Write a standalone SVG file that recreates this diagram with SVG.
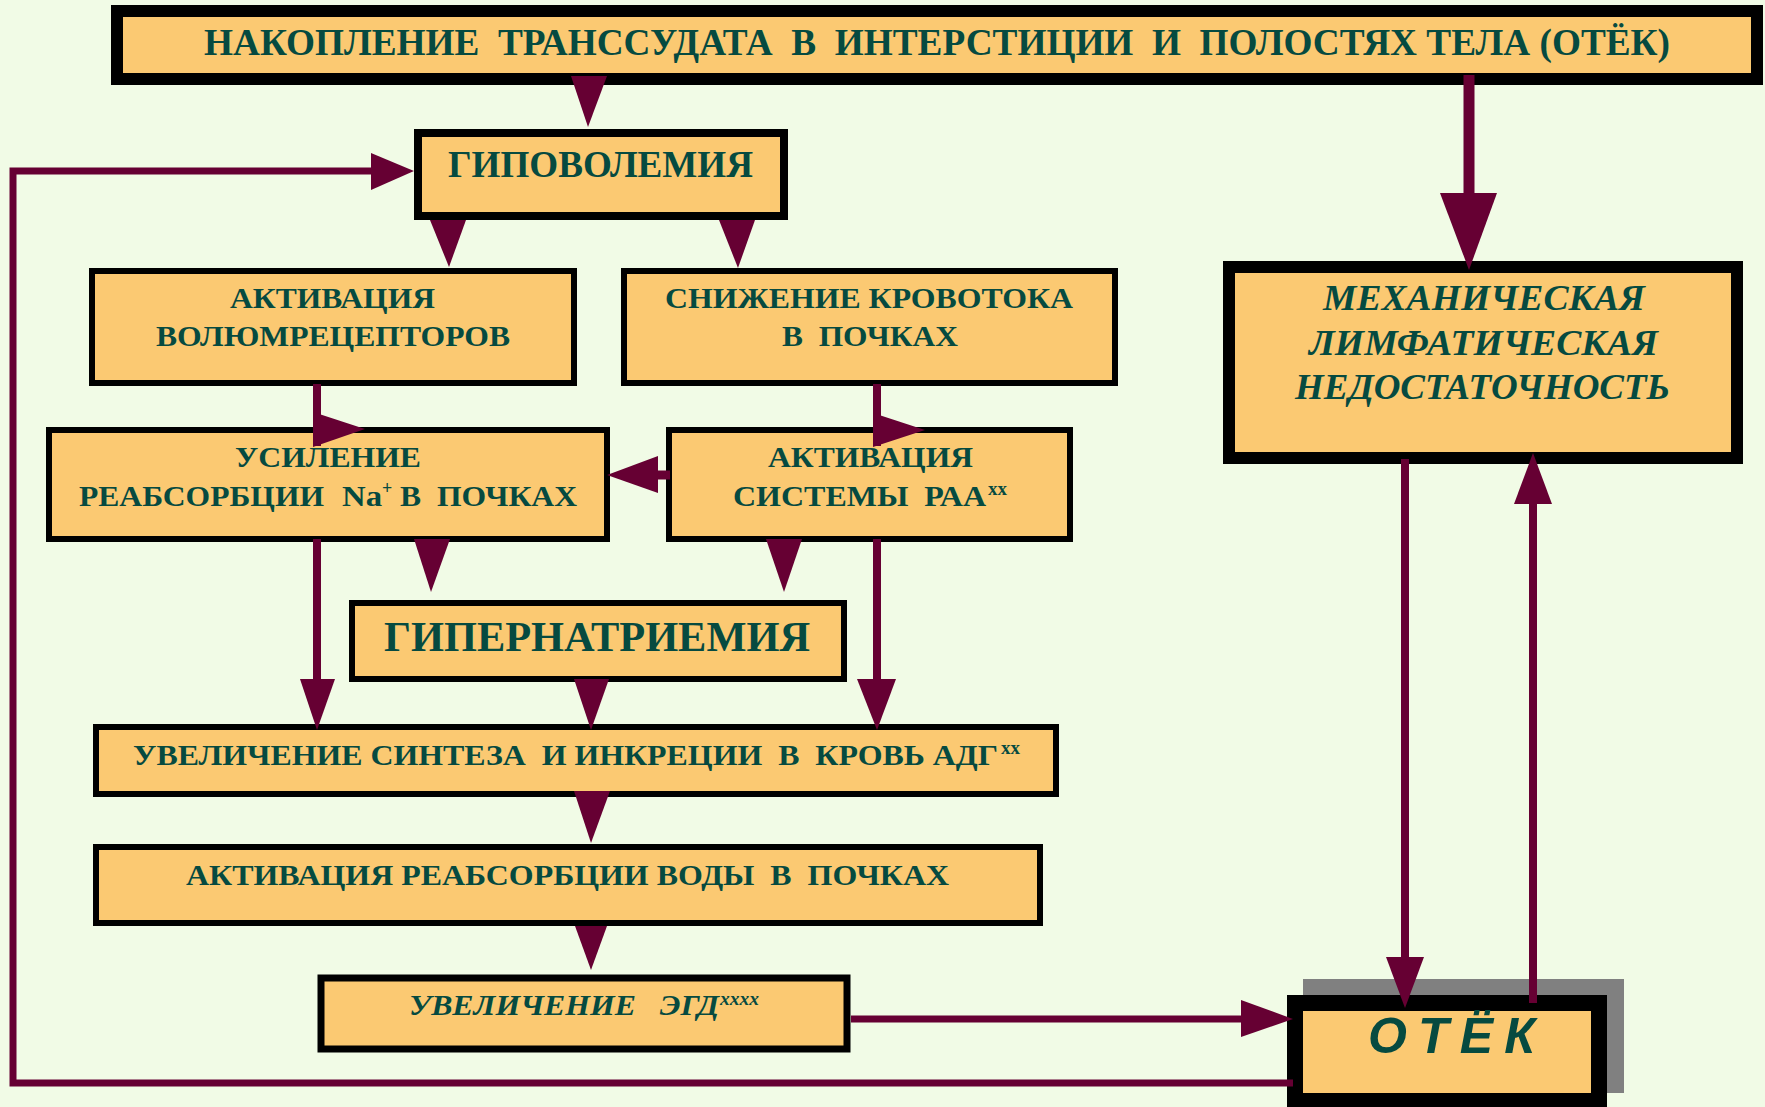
<svg xmlns="http://www.w3.org/2000/svg" width="1765" height="1107" viewBox="0 0 1765 1107">
<style>
.bg{fill:#F1FBE6}
.box{fill:#FBC972;stroke:#000}
.t{font-family:"Liberation Serif","Times New Roman",serif;font-weight:bold;fill:#064A40;white-space:pre}
.i{font-style:italic}
.s{font-family:"Liberation Sans",Arial,sans-serif;font-weight:bold;font-style:italic;fill:#064A40}
.ah{fill:#660033}
.ln{stroke:#660033;fill:none}
</style>
<rect class="bg" x="0" y="0" width="1765" height="1107"/>

<g id="node-top">
<rect class="box" x="117" y="11" width="1640" height="68" stroke-width="12"/>
<text class="t" x="204" y="55" font-size="37" textLength="1466" lengthAdjust="spacingAndGlyphs">НАКОПЛЕНИЕ  ТРАНССУДАТА  В  ИНТЕРСТИЦИИ  И  ПОЛОСТЯХ ТЕЛА (ОТЁК)</text>
</g>

<g id="node-gipovolemia">
<rect class="box" x="418" y="133" width="366" height="83" stroke-width="8"/>
<text class="t" x="448" y="177" font-size="38" textLength="305" lengthAdjust="spacingAndGlyphs">ГИПОВОЛЕМИЯ</text>
</g>

<g id="node-volumreceptors">
<rect class="box" x="92" y="271" width="482" height="112" stroke-width="6"/>
<text class="t" x="230" y="308" font-size="30" textLength="205" lengthAdjust="spacingAndGlyphs">АКТИВАЦИЯ</text>
<text class="t" x="156" y="346" font-size="30" textLength="354" lengthAdjust="spacingAndGlyphs">ВОЛЮМРЕЦЕПТОРОВ</text>
</g>

<g id="node-krovotok">
<rect class="box" x="624" y="271" width="491" height="112" stroke-width="6"/>
<text class="t" x="665" y="308" font-size="30" textLength="408" lengthAdjust="spacingAndGlyphs">СНИЖЕНИЕ КРОВОТОКА</text>
<text class="t" x="782" y="346" font-size="30" textLength="176" lengthAdjust="spacingAndGlyphs">В  ПОЧКАХ</text>
</g>

<g id="node-usilenie">
<rect class="box" x="49" y="430" width="558" height="109" stroke-width="6"/>
<text class="t" x="235" y="467" font-size="30" textLength="186" lengthAdjust="spacingAndGlyphs">УСИЛЕНИЕ</text>
<text class="t" x="79" y="506" font-size="30" textLength="245" lengthAdjust="spacingAndGlyphs">РЕАБСОРБЦИИ</text>
<text class="t" x="342" y="506" font-size="30" textLength="40" lengthAdjust="spacingAndGlyphs">Na</text>
<text class="t" x="382" y="494" font-size="18">+</text>
<text class="t" x="400" y="506" font-size="30" textLength="177" lengthAdjust="spacingAndGlyphs">В  ПОЧКАХ</text>
</g>

<g id="node-raa">
<rect class="box" x="669" y="430" width="401" height="109" stroke-width="6"/>
<text class="t" x="768" y="467" font-size="30" textLength="205" lengthAdjust="spacingAndGlyphs">АКТИВАЦИЯ</text>
<text class="t" x="733" y="506" font-size="30" textLength="253" lengthAdjust="spacingAndGlyphs">СИСТЕМЫ  РАА</text>
<text class="t" x="988" y="495" font-size="18" textLength="19" lengthAdjust="spacingAndGlyphs">xx</text>
</g>

<g id="node-hypernatriemia">
<rect class="box" x="352" y="603" width="492" height="76" stroke-width="6"/>
<text class="t" x="384" y="651" font-size="42" textLength="426" lengthAdjust="spacingAndGlyphs">ГИПЕРНАТРИЕМИЯ</text>
</g>

<g id="node-adg">
<rect class="box" x="96" y="727" width="960" height="67" stroke-width="6"/>
<text class="t" x="133" y="765" font-size="30" textLength="865" lengthAdjust="spacingAndGlyphs">УВЕЛИЧЕНИЕ СИНТЕЗА  И ИНКРЕЦИИ  В  КРОВЬ АДГ</text>
<text class="t" x="1001" y="754" font-size="18" textLength="19" lengthAdjust="spacingAndGlyphs">xx</text>
</g>

<g id="node-voda">
<rect class="box" x="96" y="847" width="944" height="76" stroke-width="6"/>
<text class="t" x="186" y="885" font-size="30" textLength="763" lengthAdjust="spacingAndGlyphs">АКТИВАЦИЯ РЕАБСОРБЦИИ ВОДЫ  В  ПОЧКАХ</text>
</g>

<g id="node-egd">
<rect class="box" x="321" y="978" width="526" height="71" stroke-width="7"/>
<text class="t i" x="409" y="1015" font-size="30" textLength="310" lengthAdjust="spacingAndGlyphs">УВЕЛИЧЕНИЕ   ЭГД</text>
<text class="t i" x="720" y="1005" font-size="18" textLength="39" lengthAdjust="spacingAndGlyphs">xxxx</text>
</g>

<g id="node-mech">
<rect class="box" x="1229" y="267" width="508" height="191" stroke-width="12"/>
<text class="t i" x="1323" y="310" font-size="35" textLength="322" lengthAdjust="spacingAndGlyphs">МЕХАНИЧЕСКАЯ</text>
<text class="t i" x="1309" y="355" font-size="35" textLength="349" lengthAdjust="spacingAndGlyphs">ЛИМФАТИЧЕСКАЯ</text>
<text class="t i" x="1295" y="399" font-size="35" textLength="375" lengthAdjust="spacingAndGlyphs">НЕДОСТАТОЧНОСТЬ</text>
</g>

<g id="node-otek">
<rect x="1303" y="979" width="321" height="114" fill="#808080"/>
<rect class="box" x="1295" y="1003" width="304" height="98" stroke-width="16"/>
<text class="s" x="1368" y="1053" font-size="50" textLength="167" lengthAdjust="spacing">ОТЁК</text>
</g>

<g id="connectors">
<polygon class="ah" points="571,76 607,76 588,127"/>
<polygon class="ah" points="430,220 466,220 449,267"/>
<polygon class="ah" points="719,220 755,220 738,268"/>
<line class="ln" x1="317" y1="384" x2="317" y2="446" stroke-width="8"/>
<polygon class="ah" points="313,412 313,447 365,429"/>
<line class="ln" x1="877" y1="384" x2="877" y2="446" stroke-width="8"/>
<polygon class="ah" points="873,413 873,447 925,430"/>
<line class="ln" x1="655" y1="475" x2="670" y2="475" stroke-width="9"/>
<polygon class="ah" points="658,456 658,493 607,475"/>
<polygon class="ah" points="414,539 450,539 431,592"/>
<polygon class="ah" points="766,539 802,539 784,592"/>
<line class="ln" x1="317" y1="539" x2="317" y2="682" stroke-width="8"/>
<polygon class="ah" points="300,679 335,679 317,730"/>
<line class="ln" x1="877" y1="539" x2="877" y2="682" stroke-width="8"/>
<polygon class="ah" points="857,679 896,679 877,730"/>
<polygon class="ah" points="574,679 609,679 591,730"/>
<polygon class="ah" points="574,791 610,791 591,843"/>
<polygon class="ah" points="575,926 607,926 591,970"/>
<line class="ln" x1="851" y1="1019" x2="1245" y2="1019" stroke-width="7"/>
<polygon class="ah" points="1241,1000 1241,1037 1293,1019"/>
<polyline class="ln" points="1293,1083 13,1083 13,171 375,171" stroke-width="7" stroke-linejoin="miter"/>
<polygon class="ah" points="371,153 371,190 414,171"/>
<line class="ln" x1="1469" y1="75" x2="1469" y2="196" stroke-width="11"/>
<polygon class="ah" points="1440,193 1497,193 1469,270"/>
<line class="ln" x1="1405" y1="459" x2="1405" y2="960" stroke-width="8"/>
<polygon class="ah" points="1386,957 1424,957 1405,1008"/>
<line class="ln" x1="1533" y1="1003" x2="1533" y2="502" stroke-width="8"/>
<polygon class="ah" points="1514,504 1552,504 1533,453"/>
</g>
</svg>
